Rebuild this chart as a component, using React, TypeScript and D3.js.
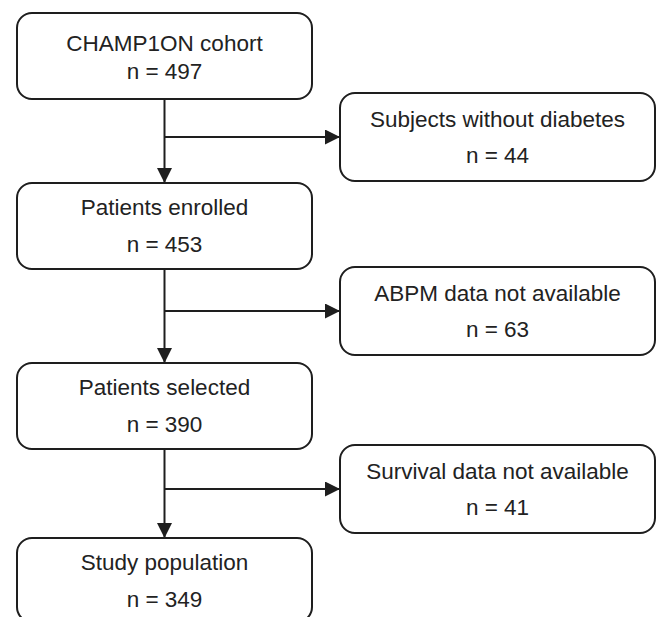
import React, { useEffect, useRef } from "react";
import * as d3 from "d3";

// flowchart content
const stageLabels = ["CHAMP1ON cohort", "Patients enrolled", "Patients selected", "Study population"];
const stageCounts = [497, 453, 390, 349];
const exclusionLabels = ["Subjects without diabetes", "ABPM data not available", "Survival data not available"];
const exclusionCounts = [44, 63, 41];

// layout (pixels)
const W = 659;
const H = 617;
const stageTops = [13, 183, 363, 538];
const exclusionTops = [93, 267, 445];
const boxH = 86;
const exclH = 88;

const App = () => {
  const svgRef = useRef<SVGSVGElement>(null);

  useEffect(() => {
    const svg = d3.select(svgRef.current);
    svg.selectAll("*").remove();

    const ink = "#1e1e1e";
    const xMain = d3.scaleLinear().domain([0, 1]).range([17, 312]);
    const xExcl = d3.scaleLinear().domain([0, 1]).range([340, 655]);
    const midX = xMain(0.5);

    svg
      .append("defs")
      .append("marker")
      .attr("id", "head")
      .attr("viewBox", "0 0 10 10")
      .attr("refX", 10)
      .attr("refY", 5)
      .attr("markerUnits", "userSpaceOnUse")
      .attr("markerWidth", 15)
      .attr("markerHeight", 15)
      .attr("orient", "auto")
      .append("path")
      .attr("d", "M0,0L10,5L0,10Z")
      .attr("fill", ink);

    const drawBox = (x0, x1, top, h, label, n, firstDy, secondDy) => {
      const g = svg.append("g");
      g.append("rect")
        .attr("x", x0)
        .attr("y", top)
        .attr("width", x1 - x0)
        .attr("height", h)
        .attr("rx", 15)
        .attr("fill", "white")
        .attr("stroke", ink)
        .attr("stroke-width", 2);
      const cx = (x0 + x1) / 2;
      [label, `n = ${n}`].forEach((t, k) => {
        g.append("text")
          .attr("x", cx)
          .attr("y", top + (k === 0 ? firstDy : secondDy))
          .attr("text-anchor", "middle")
          .attr("font-family", "'Liberation Sans', Arial, sans-serif")
          .attr("font-size", 22.5)
          .attr("fill", "#222")
          .text(t);
      });
    };

    // arrows between stages, plus the side branch to each exclusion
    const links = svg.append("g").attr("stroke", ink).attr("stroke-width", 2).attr("fill", "none");
    stageTops.slice(0, -1).forEach((top, i) => {
      links
        .append("line")
        .attr("x1", midX)
        .attr("x2", midX)
        .attr("y1", top + boxH)
        .attr("y2", stageTops[i + 1])
        .attr("marker-end", "url(#head)");
      const by = exclusionTops[i] + exclH / 2;
      links
        .append("line")
        .attr("x1", midX)
        .attr("x2", xExcl(0))
        .attr("y1", by)
        .attr("y2", by)
        .attr("marker-end", "url(#head)");
    });

    stageLabels.forEach((label, i) => {
      const first = i === 0;
      drawBox(xMain(0), xMain(1), stageTops[i], i === 3 ? 84 : boxH, label, stageCounts[i], first ? 38 : 32, first ? 66 : 69);
    });

    exclusionLabels.forEach((label, i) => {
      drawBox(xExcl(0), xExcl(1), exclusionTops[i], exclH, label, exclusionCounts[i], 34, 70);
    });
  }, []);

  return (
    <svg
      ref={svgRef}
      width={W}
      height={H}
      style={{ position: "absolute", left: 0, top: 0, background: "white" }}
    ></svg>
  );
};

export default App;
